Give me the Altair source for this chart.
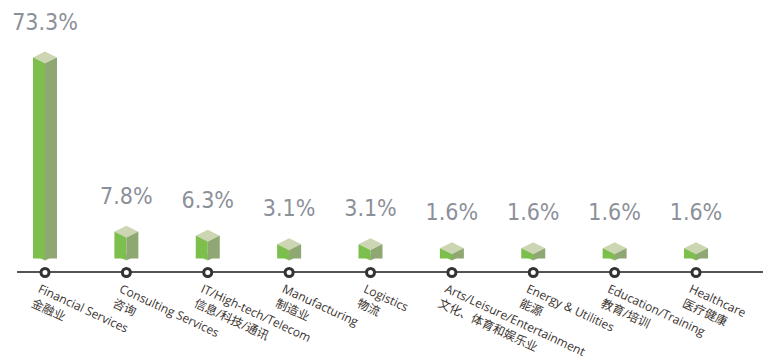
import altair as alt
import pandas as pd

categories_en = ["Financial Services", "Consulting Services", "IT/High-tech/Telecom",
                 "Manufacturing", "Logistics", "Arts/Leisure/Entertainment",
                 "Energy & Utilities", "Education/Training", "Healthcare"]
categories_zh = ["金融业", "咨询", "信息/科技/通讯", "制造业", "物流",
                 "文化、体育和娱乐业", "能源", "教育/培训", "医疗健康"]
values = [73.3, 7.8, 6.3, 3.1, 3.1, 1.6, 1.6, 1.6, 1.6]
value_labels = ["73.3%", "7.8%", "6.3%", "3.1%", "3.1%", "1.6%", "1.6%", "1.6%", "1.6%"]

df = pd.DataFrame({
    "cat": categories_en,
    "label": [e + "\n" + z for e, z in zip(categories_en, categories_zh)],
    "value": values,
    "vlabel": value_labels,
})

LEFT = "#7dbf4c"
RIGHT = "#8fa773"
TOP = "#cdd6b3"

xs = alt.X("cat:N", scale=alt.Scale(type="point", domain=categories_en, range=[37, 688], padding=0),
           axis=None, sort=None)
ys = alt.Y("value:Q", scale=alt.Scale(domain=[0, 73.3], range=[250.5, 55.5], nice=False, zero=False),
           axis=None)

base = alt.Chart(df)

left_face = base.mark_bar(width=12, xOffset=-6, yOffset=-6, color=LEFT).encode(
    x=xs, y=ys, y2=alt.value(246.5))
right_face = base.mark_bar(width=12, xOffset=6, yOffset=-6, color=RIGHT).encode(
    x=xs, y=ys, y2=alt.value(246.5))

left_bottom = base.mark_point(shape="M-1,0L0,0L0,0.5Z", size=576, filled=True, opacity=1,
                              color=LEFT, strokeWidth=0).encode(x=xs, y=alt.value(246.5))
right_bottom = base.mark_point(shape="M0,0L1,0L0,0.5Z", size=576, filled=True, opacity=1,
                               color=RIGHT, strokeWidth=0).encode(x=xs, y=alt.value(246.5))

top = base.mark_point(shape="M0,-1L1,-0.5L0,0L-1,-0.5Z", size=576, filled=True, opacity=1,
                      color=TOP, strokeWidth=0).encode(x=xs, y=ys)

pct = base.mark_text(font="'DejaVu Sans Condensed', 'Roboto', sans-serif", fontSize=23,
                     color="#8c9099", baseline="alphabetic", align="center", dy=-34).encode(
    x=xs, y=ys, text="vlabel:N")

axis_line = base.mark_rule(color="#555555", strokeWidth=1.5).encode(
    x=alt.value(9), x2=alt.value(755), y=alt.value(264))

rings = base.mark_point(shape="circle", size=64, filled=False, color="#333333",
                        fill="white", strokeWidth=3, opacity=1).encode(
    x=xs, y=alt.value(264.5))

cat_labels = base.mark_text(font="'Open Sans', 'Noto Sans CJK SC'", fontSize=12, color="#3a3330",
                            angle=25, align="left", baseline="top", lineBreak="\n",
                            lineHeight=16, xOffset=-4).encode(
    x=xs, y=alt.value(275.5), text="label:N")

chart = alt.layer(left_face, right_face, left_bottom, right_bottom, top, pct,
                  axis_line, rings, cat_labels).properties(
    width=765, height=350, autosize=alt.AutoSizeParams(type="none"), padding=0
).configure_view(stroke=None)

chart.save("out.html", embed_options={"renderer": "svg", "actions": False})
